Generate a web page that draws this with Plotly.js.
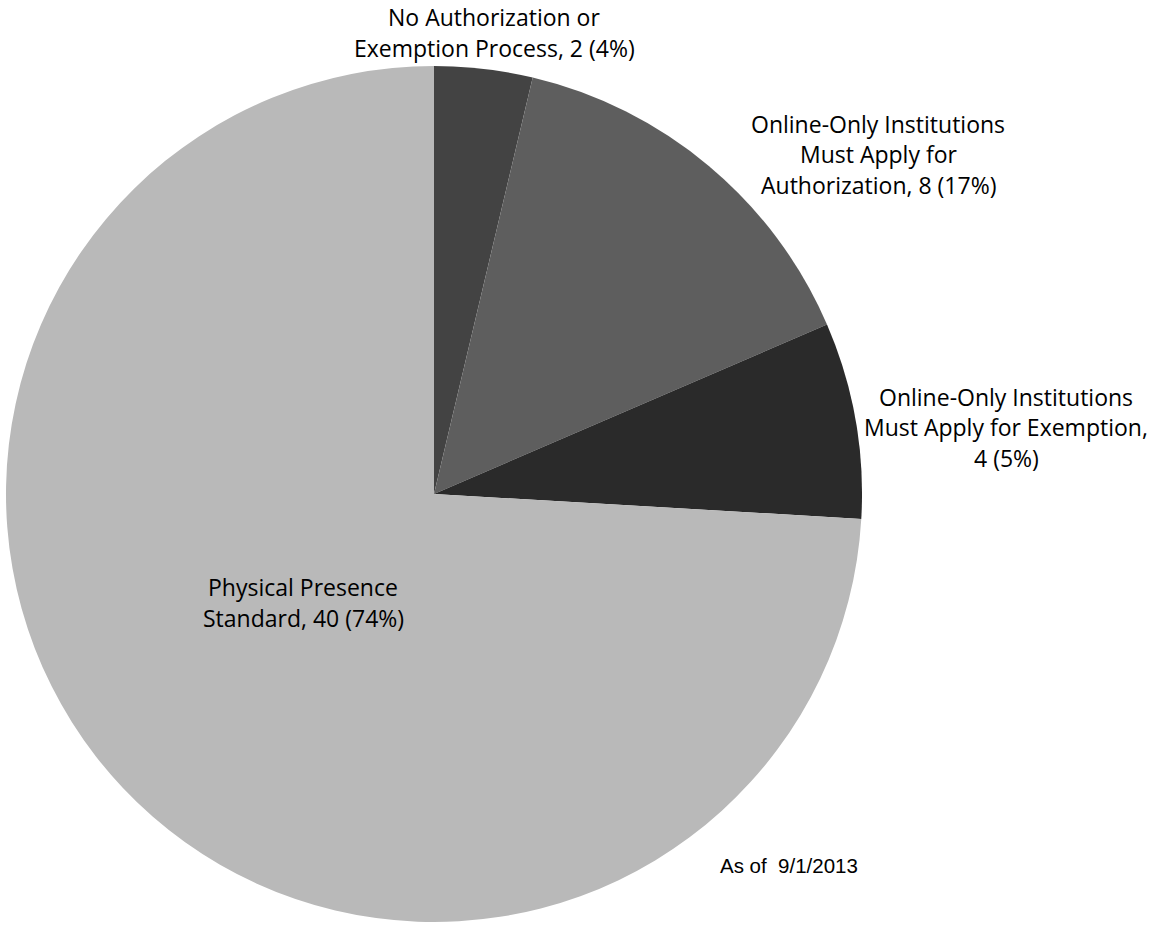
<!DOCTYPE html>
<html>
<head>
<meta charset="utf-8">
<script src="https://cdn.plot.ly/plotly-3.0.1.min.js"></script>
<style>html,body{margin:0;padding:0;background:#fff;}#chart{width:1153px;height:925px;}</style>
</head>
<body>
<div id="chart"></div>
<script>
const categories = [
  "No Authorization or Exemption Process",
  "Online-Only Institutions Must Apply for Authorization",
  "Online-Only Institutions Must Apply for Exemption",
  "Physical Presence Standard"
];
const values = [2, 8, 4, 40];
const labelLines = [
  ["No Authorization or", "Exemption Process, 2 (4%)"],
  ["Online-Only Institutions", "Must Apply for", "Authorization, 8 (17%)"],
  ["Online-Only Institutions", "Must Apply for Exemption,", "4 (5%)"],
  ["Physical Presence", "Standard, 40 (74%)"]
];
const colors = ["#434343", "#5e5e5e", "#2a2a2a", "#b9b9b9"];
const note = "As of  9/1/2013";

const W = 1153, H = 925;
// label placement (pixel centers of first line) and line spacing
const labelPos = [[494, 17], [878, 124], [1006, 397], [303, 587]];
const lineStep = 30.5;

const annotations = [];
labelLines.forEach((lines, i) => {
  lines.forEach((ln, j) => {
    annotations.push({
      xref: 'paper', yref: 'paper',
      x: labelPos[i][0] / W, y: 1 - (labelPos[i][1] + j * lineStep) / H,
      xanchor: 'center', yanchor: 'middle',
      text: ln, showarrow: false,
      font: {family: 'Open Sans, sans-serif', size: 23, color: '#000'}
    });
  });
});
annotations.push({
  xref: 'paper', yref: 'paper', x: 789 / W, y: 1 - 865 / H,
  xanchor: 'center', yanchor: 'middle', text: note, showarrow: false,
  font: {family: 'Liberation Sans, Arial, sans-serif', size: 20.5, color: '#000'}
});

const trace = {
  type: 'pie',
  labels: categories,
  values: values,
  sort: false,
  direction: 'clockwise',
  rotation: 0,
  textinfo: 'none',
  hoverinfo: 'label+value',
  marker: {colors: colors, line: {width: 0}},
  domain: {x: [6 / W, 862 / W], y: [1 - 922 / H, 1 - 66 / H]},
  showlegend: false
};

Plotly.newPlot('chart', [trace], {
  width: W, height: H,
  margin: {l: 0, r: 0, t: 0, b: 0},
  paper_bgcolor: '#fff',
  showlegend: false,
  annotations: annotations
}, {displayModeBar: false, staticPlot: true});
</script>
</body>
</html>
